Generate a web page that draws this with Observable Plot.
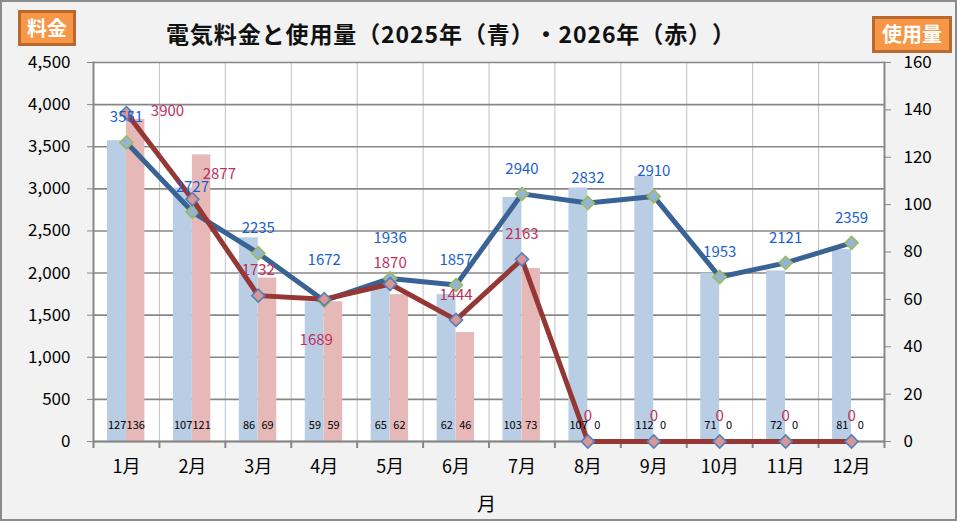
<!DOCTYPE html>
<html>
<head>
<meta charset="utf-8">
<script src="https://cdn.jsdelivr.net/npm/d3@7"></script>
<script src="https://cdn.jsdelivr.net/npm/@observablehq/plot@0.6"></script>
<style>
  body { margin: 0; background: #ffffff; }
  #wrap { position: relative; width: 957px; height: 521px; background: #f2f2f2; overflow: hidden;
          font-family: "Noto Sans CJK JP", "Noto Sans", sans-serif; }
  #chart { position: absolute; left: 0; top: 0; }
  #border { position: absolute; left: 0; top: 0; width: 957px; height: 521px; box-sizing: border-box;
            border: 2px solid #8c8c8c; pointer-events: none; }
  #title { position: absolute; left: 166px; top: 16px; font-size: 23px; letter-spacing: 0.9px;
           font-weight: bold; color: #111; white-space: nowrap; text-spacing-trim: space-all; }
  .badge { position: absolute; box-sizing: border-box; background: #f79646; border: 3px solid #b8692d;
           color: #fff; font-weight: bold; font-size: 20px; text-align: center; line-height: 30px; }
  #b1 { left: 18px; top: 10px; width: 58px; height: 36px; }
  #b2 { left: 872px; top: 16px; width: 80px; height: 37px; }
  #xlabel { position: absolute; left: 477px; top: 489px; font-size: 19px; color: #000; }
</style>
</head>
<body>
<div id="wrap">
  <div id="chart"></div>
  <div id="title">電気料金と使用量（2025年（青）・2026年（赤））</div>
  <div class="badge" id="b1">料金</div>
  <div class="badge" id="b2">使用量</div>
  <div id="xlabel">月</div>
  <div id="border"></div>
</div>
<script>
const months = ["1月","2月","3月","4月","5月","6月","7月","8月","9月","10月","11月","12月"];
const cost2025 = [3551, 2727, 2235, 1672, 1936, 1857, 2940, 2832, 2910, 1953, 2121, 2359];
const cost2026 = [3900, 2877, 1732, 1689, 1870, 1444, 2163, 0, 0, 0, 0, 0];
const usage2025 = [127, 107, 86, 59, 65, 62, 103, 107, 112, 71, 72, 81];
const usage2026 = [136, 121, 69, 59, 62, 46, 73, 0, 0, 0, 0, 0];
const costTicks = [0, 500, 1000, 1500, 2000, 2500, 3000, 3500, 4000, 4500];
const usageTicks = [0, 20, 40, 60, 80, 100, 120, 140, 160];

// label placement (style only) for the cost labels
const blueLabelShift = { "4月": [0, -40], "5月": [0, -40] };
const redLabelShift = { "1月": [41, -2], "2月": [27, -25], "4月": [-8, 41], "5月": [0, -21] };

const costMax = 4500, usageMax = 160;
const K = costMax / usageMax;

const rows = months.map((m, i) => ({
  month: m, c25: cost2025[i], c26: cost2026[i], u25: usage2025[i], u26: usage2026[i]
}));

const FONT = '"Noto Sans CJK JP", "Noto Sans", sans-serif';
const halfBand = (957 - 93 - 73) / 12 / 2;

const chart = Plot.plot({
  width: 957,
  height: 521,
  marginLeft: 93,
  marginRight: 73,
  marginTop: 62,
  marginBottom: 80,
  style: { background: "transparent", fontFamily: FONT, overflow: "visible" },
  x: { type: "band", domain: months, padding: 0, round: false, axis: null, label: null },
  y: { domain: [0, costMax], axis: null, label: null },
  marks: [
    Plot.frame({ fill: "white", stroke: null }),
    // vertical gridlines at band boundaries
    Plot.ruleX(months, { x: d => d, dx: halfBand, stroke: "#c0c0c0", strokeWidth: 1 }),
    // horizontal gridlines
    Plot.ruleY(costTicks, { stroke: "#878787", strokeWidth: 1.6 }),
    // usage bars (right axis)
    Plot.barY(rows, { x: "month", y: d => d.u25 * K, fill: "#b9cde5", insetLeft: 14, insetRight: 33 }),
    Plot.barY(rows, { x: "month", y: d => d.u26 * K, fill: "#e6b9b8", insetLeft: 33, insetRight: 14.5 }),
    // axis lines
    Plot.frame({ anchor: "left", stroke: "#878787", strokeWidth: 2 }),
    Plot.frame({ anchor: "right", stroke: "#878787", strokeWidth: 2 }),
    Plot.ruleY([0], { stroke: "#878787", strokeWidth: 2 }),
    // x tick marks at band boundaries
    Plot.ruleX(months, { x: d => d, dx: halfBand, y1: 0, y2: 0, insetBottom: -7, stroke: "#878787", strokeWidth: 2 }),
    Plot.ruleX(months.slice(0, 1), { x: d => d, dx: -halfBand, y1: 0, y2: 0, insetBottom: -7, stroke: "#878787", strokeWidth: 2 }),
    // cost lines
    Plot.line(rows, { x: "month", y: "c25", stroke: "#3a6395", strokeWidth: 5, strokeLinejoin: "round" }),
    Plot.dot(rows, { x: "month", y: "c25", symbol: "square", r: 5.2, rotate: 45, fill: "#95b3d7", stroke: "#9bbb59", strokeWidth: 1.6 }),
    Plot.line(rows, { x: "month", y: "c26", stroke: "#953735", strokeWidth: 5, strokeLinejoin: "round" }),
    Plot.dot(rows, { x: "month", y: "c26", symbol: "square", r: 5.2, rotate: 45, fill: "#d99694", stroke: "#4f81bd", strokeWidth: 1.6 }),
    // bar value labels
    Plot.text(rows, { x: "month", y: 0, text: d => String(d.u25), dx: -9.3, dy: -16, fontSize: 11, fill: "#000" }),
    Plot.text(rows, { x: "month", y: 0, text: d => String(d.u26), dx: 9.3, dy: -16, fontSize: 11, fill: "#000" }),
    // cost labels
    ...rows.map(r => {
      const s = blueLabelShift[r.month] || [0, -25];
      return Plot.text([r], { x: "month", y: "c25", text: d => String(d.c25), dx: s[0], dy: s[1], fontSize: 15, fill: "#1a5fd0" });
    }),
    ...rows.map(r => {
      const s = redLabelShift[r.month] || [0, -25];
      return Plot.text([r], { x: "month", y: "c26", text: d => String(d.c26), dx: s[0], dy: s[1], fontSize: 15, fill: "#c0305a" });
    }),
    // axes
    Plot.axisY(costTicks, { anchor: "left", tickSize: 6, tickPadding: 17, fontSize: 17, stroke: "#878787", fill: "#000", tickFormat: d3.format(","), label: null }),
    Plot.axisY(usageTicks.map(v => v * K), { anchor: "right", tickSize: 6, tickPadding: 13, fontSize: 17, stroke: "#878787", fill: "#000", tickFormat: v => String(Math.round(v / K)), label: null }),
    Plot.axisX({ anchor: "bottom", tickSize: 0, tickPadding: 19, fontSize: 18, fill: "#000", label: null })
  ]
});
document.getElementById("chart").appendChild(chart);
</script>
</body>
</html>
